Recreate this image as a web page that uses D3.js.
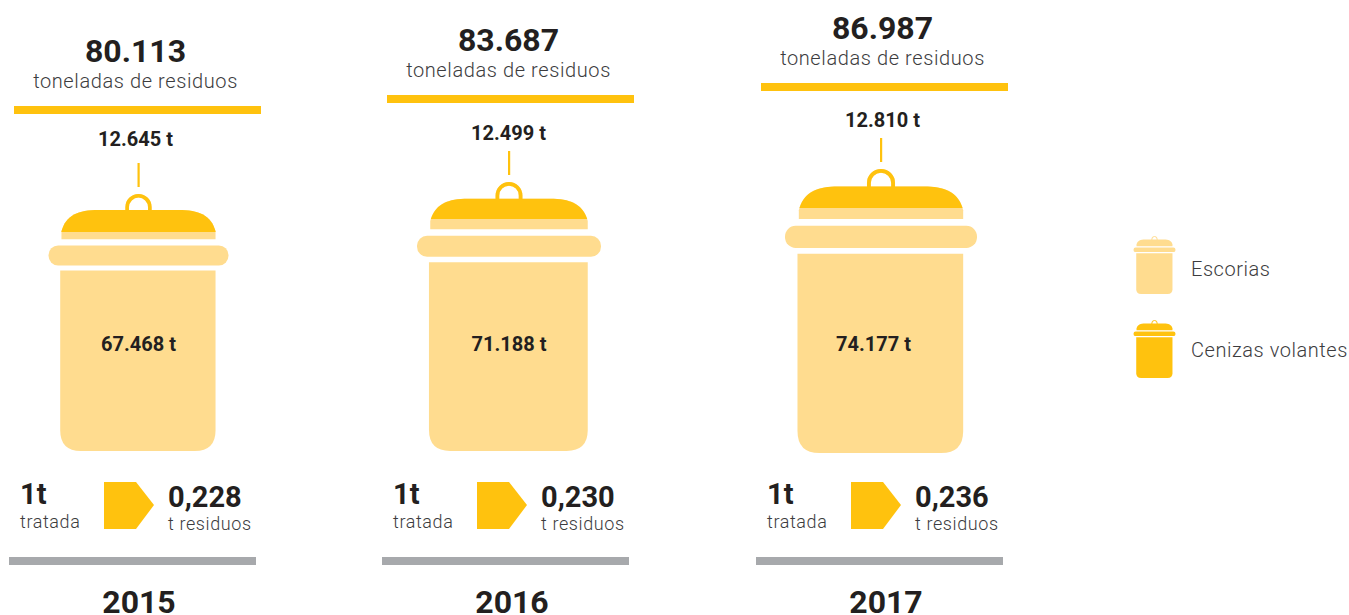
<!DOCTYPE html>
<html>
<head>
<meta charset="utf-8">
<script src="https://cdn.jsdelivr.net/npm/d3@7"></script>
<style>
  html, body { margin: 0; padding: 0; background: #fff; overflow: hidden; }
  text { font-family: Roboto, sans-serif; fill: #231f20; }
  .big { font-weight: 700; }
  .thin { font-weight: 300; fill: #3c3c3e; letter-spacing: 0.6px; }
</style>
</head>
<body>
<div class="center"></div>
<script>
// data
const years = ["2015", "2016", "2017"];
const totals = [80113, 83687, 86987];
const cenizas = [12645, 12499, 12810];
const escorias = [67468, 71188, 74177];
const ratios = [0.228, 0.230, 0.236];
const legendLabels = ["Escorias", "Cenizas volantes"];

const yellow = "#ffc20e", pale = "#ffdc8f", grey = "#a7a9ac";

const es = d3.formatLocale({decimal: ",", thousands: ".", grouping: [3], currency: ["", ""]});
const fmtInt = es.format(",d");
const fmtRatio = es.format(".3f");

// the bins grow with the amount of waste
const binHeight = d3.scaleLinear().domain(totals).range([257, 269, 284]);
const binWidth = d3.scaleLinear().domain(totals).range([180, 184, 192]);
const paleHeight = d3.scaleLinear().domain(escorias).range([219, 232, 245]);

// column placement
const barX = d3.scaleOrdinal().domain(years).range([14, 387, 761]);
const barY = d3.scaleOrdinal().domain(years).range([106, 95, 83]);
const greyX = d3.scaleOrdinal().domain(years).range([9, 382, 756]);
const binX = d3.scaleOrdinal().domain(years).range([138.5, 509, 881]);
const binBottom = d3.scaleOrdinal().domain(years).range([451, 451, 453]);
const midLabelX = d3.scaleOrdinal().domain(years).range([138.5, 509, 873.5]);
const topLabelY = d3.scaleOrdinal().domain(years).range([146, 140, 127]);

const svg = d3.select(".center").append("svg")
    .attr("width", 1349)
    .attr("height", 615);

// draws one bin with its bottom centre at (cx, bottom)
function drawBin(g, cx, bottom, w, h, fill) {
    const top = bottom - h;
    const rimH = h * 0.078;
    const bodyW = w * 0.856;
    const left = cx - bodyW / 2;
    const lidTop = top + h * 0.062;
    const lidBreak = top + h * 0.145;
    const lidEnd = top + h * 0.176;
    const ringR = w * 0.063;
    const ringW = Math.max(1, w * 0.02);

    // handle
    g.append("path")
        .attr("d", `M${cx - ringR},${lidTop + 1} V${top + ringR + ringW / 2} A${ringR},${ringR} 0 0 1 ${cx + ringR},${top + ringR + ringW / 2} V${lidTop + 1}`)
        .attr("fill", "none")
        .attr("stroke", fill)
        .attr("stroke-width", ringW);

    // lid
    const cw = bodyW * 0.24;
    g.append("path")
        .attr("d", `M${left},${lidEnd} V${lidBreak} C${left + cw * 0.12},${lidTop + h * 0.02} ${left + cw * 0.45},${lidTop} ${left + cw},${lidTop} H${left + bodyW - cw} C${left + bodyW - cw * 0.45},${lidTop} ${left + bodyW - cw * 0.12},${lidTop + h * 0.02} ${left + bodyW},${lidBreak} V${lidEnd} Z`)
        .attr("fill", fill);

    // rim
    g.append("rect")
        .attr("x", cx - w / 2)
        .attr("y", top + h * 0.2)
        .attr("width", w)
        .attr("height", rimH)
        .attr("rx", rimH * 0.48)
        .attr("fill", fill);

    // body, a little wider to the left than the lid
    const bodyTop = top + h * 0.298;
    const r = w * 0.115;
    const bl = left - w * 0.007;
    const br = left + bodyW;
    g.append("path")
        .attr("d", `M${bl},${bodyTop} H${br} V${bottom - r} Q${br},${bottom} ${br - r},${bottom} H${bl + r} Q${bl},${bottom} ${bl},${bottom - r} Z`)
        .attr("fill", fill);
}

const columns = d3.range(years.length).map(i => ({
    year: years[i], total: totals[i], cenizas: cenizas[i], escorias: escorias[i], ratio: ratios[i]
}));

columns.forEach(function(d) {
    const g = svg.append("g");
    const cx = binX(d.year);
    const bottom = binBottom(d.year);
    const h = binHeight(d.total);
    const w = binWidth(d.total);
    const top = bottom - h;
    const x0 = barX(d.year);
    const by = barY(d.year);
    const titleX = x0 + 121.5;

    // title block
    g.append("text").attr("class", "big")
        .attr("x", titleX).attr("y", by - 44)
        .attr("text-anchor", "middle")
        .style("font-size", "32px")
        .text(fmtInt(d.total));
    g.append("text").attr("class", "thin")
        .attr("x", titleX).attr("y", by - 18)
        .attr("text-anchor", "middle")
        .style("font-size", "20px")
        .text("toneladas de residuos");
    g.append("rect")
        .attr("x", x0).attr("y", by)
        .attr("width", 247).attr("height", 8)
        .attr("fill", yellow);

    // cenizas label and leader
    g.append("text").attr("class", "big")
        .attr("x", titleX).attr("y", topLabelY(d.year))
        .attr("text-anchor", "middle")
        .style("font-size", "20px")
        .text(fmtInt(d.cenizas) + " t");
    g.append("rect")
        .attr("x", cx - 1).attr("y", top - 31)
        .attr("width", 2.2).attr("height", 24)
        .attr("fill", yellow);

    // bin: pale one, then the yellow part clipped above the escorias level
    const split = bottom - paleHeight(d.escorias);
    svg.append("clipPath").attr("id", "clip" + d.year)
        .append("rect")
        .attr("x", 0).attr("y", 0)
        .attr("width", 1349).attr("height", split);
    drawBin(g.append("g"), cx, bottom, w, h, pale);
    drawBin(g.append("g").attr("clip-path", `url(#clip${d.year})`), cx, bottom, w, h, yellow);

    g.append("text").attr("class", "big")
        .attr("x", midLabelX(d.year)).attr("y", 351)
        .attr("text-anchor", "middle")
        .style("font-size", "20px")
        .text(fmtInt(d.escorias) + " t");

    // ratio row
    const rx = greyX(d.year);
    g.append("text").attr("class", "big")
        .attr("x", rx + 11).attr("y", 504)
        .style("font-size", "29px")
        .text("1t");
    g.append("text").attr("class", "thin")
        .attr("x", rx + 11).attr("y", 528)
        .style("font-size", "18px")
        .text("tratada");
    const ax = rx + 95;
    g.append("polygon")
        .attr("points", [[ax, 482], [ax + 32, 482], [ax + 50, 505], [ax + 32, 529], [ax, 529]].join(" "))
        .attr("fill", yellow);
    g.append("text").attr("class", "big")
        .attr("x", rx + 159).attr("y", 507)
        .style("font-size", "29px")
        .text(fmtRatio(d.ratio));
    g.append("text").attr("class", "thin")
        .attr("x", rx + 159).attr("y", 530)
        .style("font-size", "18px")
        .text("t residuos");

    // year
    g.append("rect")
        .attr("x", rx).attr("y", 557)
        .attr("width", 247).attr("height", 8)
        .attr("fill", grey);
    g.append("text").attr("class", "big")
        .attr("x", rx + 130).attr("y", 613)
        .attr("text-anchor", "middle")
        .style("font-size", "32px")
        .text(d.year);
});

// legend
const legendBottom = d3.scaleOrdinal().domain(legendLabels).range([294, 378]);
const legendFill = d3.scaleOrdinal().domain(legendLabels).range([pale, yellow]);
const legendTextY = d3.scaleOrdinal().domain(legendLabels).range([276, 357]);
legendLabels.forEach(function(name) {
    drawBin(svg.append("g"), 1154.5, legendBottom(name), 42, 58, legendFill(name));
    svg.append("text").attr("class", "thin")
        .attr("x", 1191).attr("y", legendTextY(name))
        .style("font-size", "20px")
        .style("letter-spacing", "0.55px")
        .text(name);
});
</script>
</body>
</html>
